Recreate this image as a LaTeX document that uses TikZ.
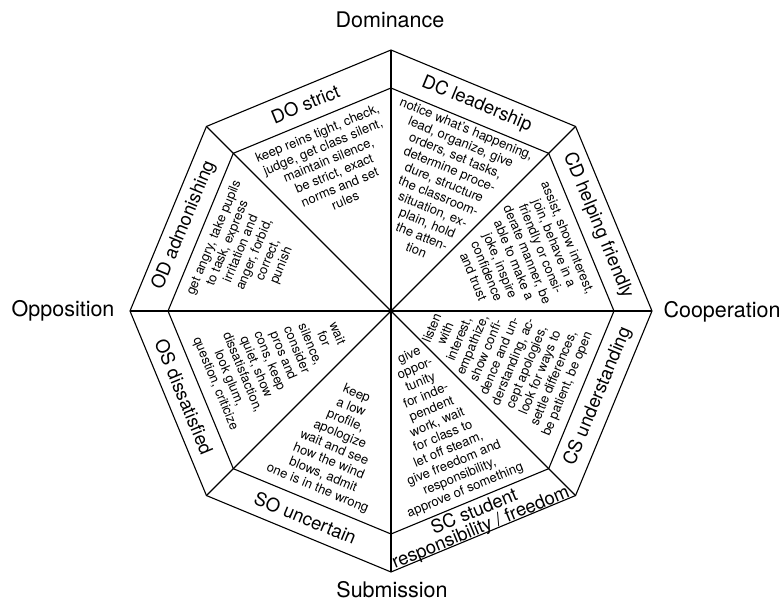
\documentclass[tikz,border=0pt]{standalone}
\usepackage{fontspec}
\setmainfont{TeX Gyre Heros}
\usetikzlibrary{positioning}

\tikzset{
  axislabel/.style={font=\fontsize{21.5}{24}\selectfont, inner sep=0pt},
  ringlabel/.style={font=\fontsize{18.5}{17}\selectfont, align=center, inner sep=0pt},
  sectortext/.style={font=\fontsize{13}{14.6}\selectfont, align=center, inner sep=0pt},
}

\begin{document}
\begin{tikzpicture}[x=1pt, y=1pt, line width=1.1pt]
  \useasboundingbox (-391,-291) rectangle (391,311);
  \coordinate (c) at (0,0);

  % Outer and inner octagon
  \draw (0:261) \foreach \a in {45,90,...,315}{ -- (\a:261)} -- cycle;
  \draw (0:223) \foreach \a in {45,90,...,315}{ -- (\a:223)} -- cycle;

  % Spokes
  \foreach \a in {0,45,...,315}
    \draw (c) -- (\a:261);
  \fill (c) circle (2.6);

  % Axis labels
  \node[axislabel, anchor=base] (dom) at (-1,283) {Dominance};
  \node[axislabel, anchor=base] (sub) at (1,-286) {Submission};
  \node[axislabel, anchor=base east] (opp) at (-276,-6) {Opposition};
  \node[axislabel, anchor=base west] (coop) at (272,-7) {Cooperation};

  % Ring labels
  \node[ringlabel, rotate=-22.5] (dcLabel) at (67.5:224) {DC leadership};
  \node[ringlabel, rotate=22.5] (doLabel) at (112.5:224) {DO strict};
  \node[ringlabel, rotate=67.5] (odLabel) at (157.5:224) {OD admonishing};
  \node[ringlabel, rotate=-67.5] (osLabel) at (202.5:224) {OS dissatisfied};
  \node[ringlabel, rotate=-22.5] (soLabel) at (247.5:224) {SO uncertain};
  \node[ringlabel, rotate=22.5] (scLabel) at (292.5:226.5) {SC student\\responsibility / freedom};
  \node[ringlabel, rotate=67.5] (csLabel) at (337.5:224) {CS understanding};
  \node[ringlabel, rotate=-67.5] (cdLabel) at (22.5:224) {CD helping friendly};

  % Sector texts
  \node[sectortext, rotate=-22.5, anchor=north] (dcText) at (67.5:203)
    {notice what's happening,\\lead, organize, give\\orders, set tasks,\\determine proce-\\dure, structure\\the classroom-\\situation, ex-\\plain, hold\\the atten-\\tion};
  \node[sectortext, rotate=22.5, anchor=north] (doText) at (112.5:198)
    {keep reins tight, check,\\judge, get class silent,\\maintain silence,\\be strict, exact\\norms and set\\rules};
  \node[sectortext, rotate=67.5, anchor=north] (odText) at (157.5:198)
    {get angry, take pupils\\to task, express\\irritation and\\anger, forbid,\\correct,\\punish};
  \node[sectortext, rotate=-67.5, anchor=south] (osText) at (202.5:197)
    {wait\\for\\silence,\\consider\\pros and\\cons, keep\\quiet, show\\dissatisfaction,\\look glum,\\question, criticize};
  \node[sectortext, rotate=-22.5, anchor=south] (soText) at (247.5:199)
    {keep\\a low\\profile,\\apologize\\wait and see\\how the wind\\blows, admit\\one is in the wrong};
  \node[sectortext, rotate=22.5, anchor=south] (scText) at (292.5:201)
    {give\\oppor-\\tunity\\for inde-\\pendent\\work, wait\\for class to\\let off steam,\\give freedom and\\responsibility,\\approve of something};
  \node[sectortext, rotate=67.5, anchor=south] (csText) at (337.5:198)
    {listen\\with\\interest,\\empathize,\\show confi-\\dence and un-\\derstanding, ac-\\cept apologies,\\look for ways to\\settle differences,\\be patient, be open};
  \node[sectortext, rotate=-67.5, anchor=north] (cdText) at (22.5:197)
    {assist, show interest,\\join, behave in a\\friendly or consi-\\derate manner, be\\able to make a\\joke, inspire\\confidence\\and trust};
\end{tikzpicture}
\end{document}
